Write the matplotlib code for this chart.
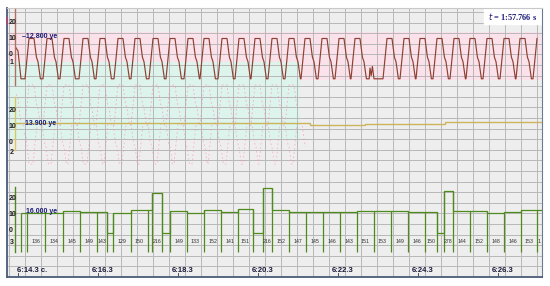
import matplotlib
matplotlib.use("Agg")
import matplotlib.pyplot as plt
import numpy as np

# ---- data (time in seconds from 6:14.3) ----
# channel 1: beat peak times of the upper waveform
peakTimes = [0.35, 0.8, 1.225, 1.7, 2.125, 2.575, 3.0, 3.45, 3.875, 4.325,
             4.725, 5.175, 5.6, 6.0, 6.425, 6.85, 7.25, 7.675, 8.1, 8.5,
             9.3, 9.725, 10.125, 10.55, 10.975, 11.375, 11.8, 12.225, 12.625, 13.05]
# one cycle of the waveform around a peak (offset s, value)
cycleDt = [-0.175, -0.075, 0.05, 0.11, 0.15, 0.21]
cycleVal = [-16, 10, 10, -2, -5, -16]
startT = [-0.05, 0.0, 0.075]
startV = [4, 2, -16]
notchT = [8.78, 8.8, 8.83, 8.86, 8.9]
notchV = [-16, -9, -14, -8, -16]

# channel 2: level trace
levelEdges = [-0.075, 7.3, 8.675, 10.675, 13.1]
levelVals = [12.3, 11.0, 11.6, 12.9]

# channel 3: tachogram beats, interval heights and labels
beatTimes = [0.075, 0.225, 0.675, 1.125, 1.55, 1.975, 2.225, 2.375, 2.825, 3.25,
             3.35, 3.6, 3.8, 4.225, 4.65, 5.075, 5.5, 5.875, 6.125, 6.35,
             6.775, 7.2, 7.625, 8.05, 8.475, 8.9, 9.325, 9.75, 10.175, 10.475,
             10.65, 10.875, 11.3, 11.725, 12.15, 12.575, 12.975, 13.1]
barVals = [11.5, 11.5, 11.5, 12.5, 12, 12, -1.5, 11, 13, 13,
           24, -1.5, 12.5, 11, 13, 12, 13.5, -1.5, 27, 13,
           12, 12, 12, 12, 12.5, 12.5, 12.5, 12, 12, -1.5,
           25, 12.5, 12.5, 11.5, 12, 13, 13]
barLabels = ["", "136", "134", "145", "149", "143", "", "129", "150", "",
             "216", "", "149", "133", "152", "141", "151", "", "216", "152",
             "147", "145", "146", "143", "151", "153", "149", "146", "150", "",
             "278", "144", "152", "148", "146", "153", "1"]

timeTicks = [0, 2, 4, 6, 8, 10, 12]
timeLabels = ["6:14.3 c.", "6:16.3", "6:18.3", "6:20.3", "6:22.3", "6:24.3", "6:26.3"]

XMIN, XMAX = -0.275, 13.1
ROWS = 269
navy = "#1c1c78"

fig = plt.figure(figsize=(5.5, 2.86), dpi=100)
rect = [7 / 550, 9 / 286, 535 / 550, 269 / 286]

# background grid axes (y in pixel rows)
bg = fig.add_axes(rect)
bg.set_xlim(XMIN, XMAX)
bg.set_ylim(ROWS, 0)
bg.set_facecolor("#eeeeee")
bg.set_xticks([])
bg.set_yticks([])
bg.axhspan(24, 72, color="#fbe2ea", lw=0)
bg.fill_between([XMIN, 7.05], 54, 132, color="#dcf4ec", lw=0)
for k in range(-1, 33):
    bg.axvline(0.175 + 0.4 * k, color="#b8b8b8", lw=0.7, zorder=1)
for r in np.arange(4, ROWS, 10.6):
    bg.axhline(r, color="#b8b8b8", lw=0.7, zorder=1)
for side in ["left", "bottom"]:
    bg.spines[side].set_color("#4a5a78")
    bg.spines[side].set_linewidth(1.3)
bg.spines["right"].set_color("#6a7a90")
bg.spines["top"].set_color("#c8c8c8")
bg.add_patch(plt.Rectangle((11.65, 0), XMAX - 11.65, 16, color="white", zorder=2))
bg.text(11.75, 8, "$\\mathit{t}$ = 1:57.766 s", fontsize=6, fontweight="bold",
        family="Liberation Serif", color=navy, va="center", zorder=3)
for t, lab in zip(timeTicks, timeLabels):
    bg.plot([t, t], [265, ROWS], color="#333344", lw=0.6)
    if t == 0:
        bg.text(t - 0.03, 262, lab, fontsize=5.5, fontweight="bold", family="Liberation Sans",
                color="#1a1a3a", ha="left", va="center")
    else:
        bg.text(t + 0.12, 262, lab, fontsize=5.5, fontweight="bold", family="Liberation Sans",
                color="#1a1a3a", ha="center", va="center")
bg.plot([XMIN + 0.01, XMIN + 0.01], [10, 16], color="#e03060", lw=1.5, zorder=4)


def channel(zeroRow, scale):
    a = fig.add_axes(rect, sharex=bg)
    a.patch.set_alpha(0)
    a.axis("off")
    a.set_ylim(-(ROWS - zeroRow) / scale, zeroRow / scale)
    a.set_xlim(XMIN, XMAX)
    return a


def axisLabels(a, numLabel, numVal, color, lineTop, lineBottom):
    a.plot([-0.075, -0.075], [lineBottom, lineTop], color=color, lw=1.0)
    for v in [20, 10, 0]:
        a.text(-0.235, v, str(v), fontsize=5, fontweight="bold", family="Liberation Sans",
               color="#202020", va="center", ha="left")
    a.text(-0.215, numVal, numLabel, fontsize=5, fontweight="bold", family="Liberation Sans",
           color="#202020", va="center", ha="left")


# ---- channel 1: waveform ----
c1 = channel(46, 1.55)
wt = list(startT)
wv = list(startV)
for p in peakTimes:
    for dt, v in zip(cycleDt, cycleVal):
        wt.append(p + dt)
        wv.append(v)
    if p == 8.5:
        wt += notchT
        wv += notchV
wt = np.array(wt)
wv = np.array(wv)
order = np.argsort(wt, kind="stable")
wt, wv = wt[order], wv[order]
keep = wt <= XMAX
# faint pink copies (ghost trace)
m = wt < 7.05
c1.plot(wt[m], wv[m] - 30, color="#ff8cc4", lw=0.6, ls=(0, (2, 3)), alpha=0.75)
c1.plot(wt[m] + 0.2, wv[m] - 55, color="#ff8cc4", lw=0.6, ls=(0, (2, 3)), alpha=0.65)
c1.plot(wt[keep], wv[keep], color="#8c4032", lw=0.85)
axisLabels(c1, "1", -5.3, "#b07060", 29, -20)
c1.text(0.1, 11.5, "–12.800 ye", fontsize=5, fontweight="bold", family="Liberation Sans",
        color=navy, va="center", ha="left")

# ---- channel 2: level ----
c2 = channel(134, 1.55)
c2.stairs(levelVals, levelEdges, color="#cbb45a", lw=1.0, baseline=None)
axisLabels(c2, "2", -6.5, "#d8c860", 29, -5)
c2.text(0.175, 12.0, "13.900 ye", fontsize=5, fontweight="bold", family="Liberation Sans",
        color=navy, va="center", ha="left")

# ---- channel 3: tachogram ----
c3 = channel(223, 1.6)
green = "#4e8a1e"
c3.stairs(barVals, beatTimes, color=green, lw=0.9, baseline=None)
tops = [max(barVals[max(i - 1, 0)], barVals[min(i, len(barVals) - 1)]) for i in range(len(beatTimes) - 1)]
c3.vlines(beatTimes[:-1], -13, tops, color=green, lw=0.9)
mids = [(a + b) / 2 for a, b in zip(beatTimes[:-1], beatTimes[1:])]
for x, lab in zip(mids, barLabels):
    if lab:
        c3.text(x, -6.3, lab, fontsize=3.8, family="Liberation Sans", color="#303030",
                ha="center", va="center")
axisLabels(c3, "3", -7, green, 27.5, -13)
c3.text(0.2, 12.0, "16.000 ye", fontsize=5, fontweight="bold", family="Liberation Sans",
        color=navy, va="center", ha="left")

fig.savefig("out.png", dpi=100, facecolor="white")
